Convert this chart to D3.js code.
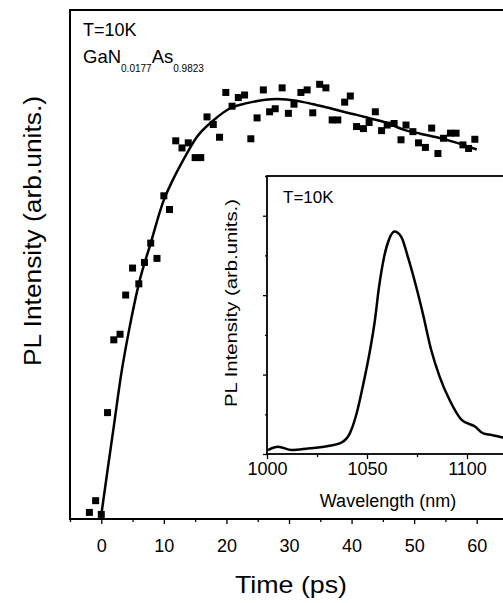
<!DOCTYPE html>
<meta charset="utf-8">
<style>
body { margin: 0; background: #fff; }
svg { font-family: "Liberation Sans", Arial, sans-serif; }
.axis path { display: none; }
.axis line { stroke: #000; stroke-width: 1.5px; }
.axis text { fill: #000; }
</style>
<body>
<script src="https://cdn.jsdelivr.net/npm/d3@7"></script>
<script>
// main panel: PL transient, time in ps, intensity in arb. units
var pointTime = [-1.9, -0.9, 0, 1.0, 2.0, 3.0, 3.9, 5.0, 6.0, 6.9, 7.9, 8.9, 10.0, 10.9,
  11.9, 12.9, 13.9, 15.0, 15.9, 16.9, 17.9, 18.9, 19.9, 20.9, 21.9, 22.9, 23.9, 24.9,
  25.9, 26.9, 27.8, 28.9, 29.9, 30.8, 31.9, 32.9, 33.8, 34.9, 35.9, 36.9, 37.8, 38.9,
  39.8, 40.8, 41.9, 42.8, 43.8, 44.8, 45.7, 46.8, 47.9, 48.7, 49.8, 50.7, 51.8, 52.8,
  53.8, 54.7, 55.8, 56.7, 57.8, 58.7, 59.7];
var pointValue = [0.013, 0.036, 0.009, 0.209, 0.352, 0.363, 0.440, 0.493, 0.462, 0.504, 0.542, 0.512, 0.635, 0.608,
  0.743, 0.729, 0.739, 0.710, 0.710, 0.790, 0.775, 0.750, 0.838, 0.811, 0.828, 0.833, 0.747, 0.788,
  0.843, 0.800, 0.806, 0.847, 0.797, 0.815, 0.838, 0.843, 0.798, 0.854, 0.847, 0.784, 0.784, 0.819,
  0.831, 0.771, 0.767, 0.779, 0.800, 0.763, 0.774, 0.777, 0.745, 0.774, 0.761, 0.739, 0.730, 0.768,
  0.718, 0.748, 0.758, 0.758, 0.735, 0.728, 0.746];

// fit curve
var fitTime = [0, 1, 2, 3.2, 4.5, 6, 7.9, 10, 11, 13, 15.3, 18, 20.6, 23.3, 25.9, 28.1, 30.2,
  32.3, 34.5, 36.6, 38.7, 40.8, 43, 45.5, 48.3, 51, 53.6, 56.3, 60];
var fitValue = [0.008, 0.096, 0.182, 0.286, 0.375, 0.462, 0.542, 0.627, 0.655, 0.703, 0.751, 0.784, 0.807, 0.817, 0.823, 0.825, 0.823,
  0.819, 0.813, 0.807, 0.800, 0.794, 0.787, 0.779, 0.765, 0.757, 0.750, 0.741, 0.726];

var timeTicks = [0, 10, 20, 30, 40, 50, 60];
var timeMinor = [-5, 5, 15, 25, 35, 45, 55, 65];

// inset: PL spectrum
var wavelength = [1000.5, 1005.6, 1012.3, 1020.6, 1030.6, 1037.3, 1041.4, 1044.8, 1048.1, 1051.4,
  1053.9, 1056, 1058.5, 1061, 1063.75, 1067.1, 1070.4, 1074.6, 1077.9, 1082.1,
  1086.3, 1091.3, 1097.3, 1104, 1108.1, 1112.3, 1117.3, 1122];
var spectrum = [0.10, 0.18, 0.10, 0.14, 0.20, 0.29, 0.52, 1.02, 1.75, 2.58,
  3.35, 4.20, 4.95, 5.40, 5.60, 5.47, 4.97, 4.21, 3.54, 2.62,
  1.95, 1.36, 0.86, 0.69, 0.52, 0.48, 0.42, 0.38];
var waveTicks = [1000, 1050, 1100];
var waveMinor = [1025, 1075, 1125];
var insetMajor = [0, 2, 4, 6];
var insetMinor = [1, 3, 5, 7];

var svg = d3.select("body").append("svg")
    .attr("width", 503)
    .attr("height", 603);

var x = d3.scaleLinear().domain([-5, 65]).range([70, 508]);
var y = d3.scaleLinear().domain([0, 1]).range([519, 10]);

// frame
svg.append("rect")
    .attr("x", x(-5)).attr("y", y(1))
    .attr("width", x(65) - x(-5)).attr("height", y(0) - y(1))
    .attr("fill", "none").attr("stroke", "#000").attr("stroke-width", 2);

svg.append("g")
    .attr("class", "axis")
    .attr("transform", "translate(0," + y(0) + ")")
    .call(d3.axisBottom(x).tickValues(timeTicks).tickSize(5).tickPadding(15).tickFormat(d3.format("d")))
    .selectAll("text").style("font-size", "18px");

svg.append("g")
    .attr("class", "axis")
    .attr("transform", "translate(0," + y(0) + ")")
    .call(d3.axisBottom(x).tickValues(timeMinor).tickSize(3).tickFormat(""));

svg.append("text")
    .attr("x", 291).attr("y", 593)
    .attr("text-anchor", "middle")
    .style("font-size", "24px")
    .attr("textLength", 112).attr("lengthAdjust", "spacingAndGlyphs")
    .text("Time (ps)");

svg.append("text")
    .attr("transform", "translate(41,231) rotate(-90)")
    .attr("text-anchor", "middle")
    .style("font-size", "23px")
    .attr("textLength", 270).attr("lengthAdjust", "spacingAndGlyphs")
    .text("PL Intensity (arb.units.)");

svg.append("text")
    .attr("x", 83).attr("y", 36)
    .style("font-size", "18px")
    .text("T=10K");

var comp = svg.append("text")
    .attr("x", 83).attr("y", 63)
    .style("font-size", "18.5px");
comp.append("tspan").text("GaN");
comp.append("tspan").attr("dy", 9).style("font-size", "10px").text("0.0177");
comp.append("tspan").attr("dy", -9).text("As");
comp.append("tspan").attr("dy", 9).style("font-size", "10px").text("0.9823");

// fit line
var fit = d3.range(fitTime.length).map(function(i) { return [fitTime[i], fitValue[i]]; });
svg.append("path")
    .datum(fit)
    .attr("fill", "none")
    .attr("stroke", "#000")
    .attr("stroke-width", 2.5)
    .attr("d", d3.line()
      .x(function(d) { return x(d[0]); })
      .y(function(d) { return y(d[1]); })
      .curve(d3.curveMonotoneX));

// data squares
var s = 7;
svg.selectAll(".pt")
    .data(d3.range(pointTime.length))
  .enter().append("rect")
    .attr("class", "pt")
    .attr("x", function(i) { return x(pointTime[i]) - s / 2; })
    .attr("y", function(i) { return y(pointValue[i]) - s / 2; })
    .attr("width", s).attr("height", s)
    .attr("fill", "#000");

// inset
var ix = d3.scaleLinear().domain([1000, 1125]).range([267, 517]);
var iy = d3.scaleLinear().domain([0, 7]).range([454, 176]);

svg.append("rect")
    .attr("x", ix(1000)).attr("y", iy(7))
    .attr("width", ix(1125) - ix(1000)).attr("height", iy(0) - iy(7))
    .attr("fill", "#fff").attr("stroke", "#000").attr("stroke-width", 1.8);

svg.append("g")
    .attr("class", "axis")
    .attr("transform", "translate(0," + iy(0) + ")")
    .call(d3.axisBottom(ix).tickValues(waveTicks).tickSize(5).tickPadding(3).tickFormat(d3.format("d")))
    .selectAll("text").style("font-size", "18px");

svg.append("g")
    .attr("class", "axis")
    .attr("transform", "translate(0," + iy(0) + ")")
    .call(d3.axisBottom(ix).tickValues(waveMinor).tickSize(3).tickFormat(""));

svg.append("g")
    .attr("class", "axis")
    .attr("transform", "translate(" + ix(1000) + ",0)")
    .call(d3.axisLeft(iy).tickValues(insetMajor).tickSize(4).tickFormat(""));

svg.append("g")
    .attr("class", "axis")
    .attr("transform", "translate(" + ix(1000) + ",0)")
    .call(d3.axisLeft(iy).tickValues(insetMinor).tickSize(2).tickFormat(""));

svg.selectAll(".axis line").style("stroke-width", "1.3px");

svg.append("text")
    .attr("x", 283).attr("y", 203)
    .style("font-size", "17px")
    .text("T=10K");

svg.append("text")
    .attr("transform", "translate(237,303) rotate(-90)")
    .attr("text-anchor", "middle")
    .style("font-size", "17px")
    .attr("textLength", 208).attr("lengthAdjust", "spacingAndGlyphs")
    .text("PL Intensity (arb.units.)");

svg.append("text")
    .attr("x", 388).attr("y", 507)
    .attr("text-anchor", "middle")
    .style("font-size", "18px")
    .text("Wavelength (nm)");

var spec = d3.range(wavelength.length).map(function(i) { return [wavelength[i], spectrum[i]]; });
svg.append("path")
    .datum(spec)
    .attr("fill", "none")
    .attr("stroke", "#000")
    .attr("stroke-width", 2.5)
    .attr("d", d3.line()
      .x(function(d) { return ix(d[0]); })
      .y(function(d) { return iy(d[1]); })
      .curve(d3.curveMonotoneX));
</script>
